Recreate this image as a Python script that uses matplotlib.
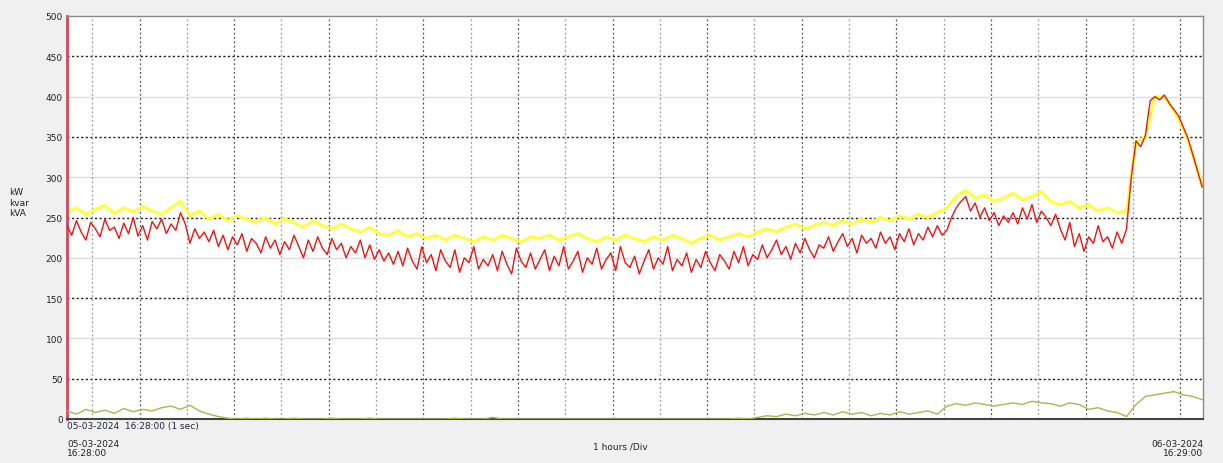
import numpy as np
import pandas as pd
import matplotlib
matplotlib.use("Agg")
import matplotlib.pyplot as plt
import matplotlib.dates as mdates

# ---- data ----
start = "2024-03-05 16:28:00"
end = "2024-03-06 16:29:00"

# kW (red), one value every 6 minutes
kw = [
    240, 228, 246, 232, 222, 244, 236, 226, 248, 234,
    238, 224, 243, 230, 250, 227, 240, 222, 245, 236,
    248, 230, 242, 234, 256, 242, 218, 236, 224, 232,
    220, 234, 214, 228, 210, 226, 216, 230, 208, 224,
    218, 206, 226, 212, 222, 204, 220, 210, 228, 214,
    200, 222, 208, 226, 212, 204, 224, 210, 218, 200,
    214, 206, 222, 200, 216, 198, 210, 196, 206, 192,
    208, 190, 212, 196, 186, 214, 194, 204, 184, 210,
    196, 188, 210, 182, 200, 194, 214, 186, 198, 190,
    204, 184, 208, 192, 180, 212, 196, 188, 206, 186,
    198, 210, 184, 202, 190, 214, 186, 196, 208, 182,
    200, 192, 212, 186, 198, 206, 184, 214, 194, 188,
    202, 180, 196, 210, 186, 200, 192, 214, 184, 198,
    190, 206, 182, 198, 188, 208, 194, 184, 204, 196,
    186, 208, 194, 214, 190, 204, 198, 216, 200, 210,
    222, 204, 214, 198, 218, 206, 224, 210, 200, 216,
    212, 226, 208, 220, 230, 214, 224, 206, 228, 218,
    224, 212, 232, 218, 226, 210, 230, 220, 236, 216,
    230, 222, 238, 226, 240, 228, 234, 250, 262, 270,
    276, 258, 268, 250, 262, 246, 256, 240, 252, 244,
    256, 242, 262, 248, 266, 244, 258, 250, 240, 254,
    236, 222, 244, 214, 230, 208, 226, 218, 240, 220,
    226, 212, 232, 218, 236, 300, 345, 338, 352, 395,
    400, 396, 402, 392, 384, 376, 362, 348, 328, 308,
    288,
]

# kVA (yellow), one value every 12 minutes
kva = [
    256, 262, 254, 260, 265, 255, 262, 257, 264, 258,
    254, 262, 270, 252, 258, 248, 254, 246, 252, 248,
    244, 250, 242, 248, 244, 238, 246, 240, 236, 242,
    236, 232, 238, 230, 228, 234, 226, 230, 224, 228,
    222, 228, 224, 220, 226, 222, 228, 224, 220, 226,
    224, 228, 222, 226, 230, 224, 220, 226, 222, 228,
    224, 220, 226, 222, 228, 224, 218, 224, 228, 222,
    226, 230, 226, 232, 236, 232, 238, 242, 236, 240,
    244, 240, 246, 242, 248, 244, 250, 246, 252, 248,
    254, 250, 256, 262, 276, 284, 274, 278, 270, 274,
    280, 272, 276, 282, 270, 266, 270, 262, 266, 258,
    262, 256, 258, 344, 350, 400, 400, 383, 361, 328,
    289,
]

# kvar (green), one value every 12 minutes
kvar = [
    10, 6, 12, 8, 11, 7, 13, 9, 12, 10,
    14, 16, 12, 17, 10, 6, 3, 1, 0, 1,
    0, 1, 0, 0, 1, 0, 0, 0, 1, 0,
    0, 0, 1, 0, 0, 0, 0, 0, 0, 0,
    0, 1, 0, 0, 0, 2, 0, 0, 0, 0,
    0, 0, 0, 0, 0, 0, 0, 0, 0, 0,
    0, 0, 0, 0, 0, 0, 0, 0, 0, 0,
    0, 1, 0, 2, 4, 3, 6, 4, 7, 5,
    8, 5, 9, 6, 8, 4, 7, 5, 9, 6,
    8, 10, 6, 16, 19, 17, 20, 18, 16, 18,
    20, 18, 22, 20, 19, 16, 20, 18, 12, 14,
    10, 8, 3, 18, 28, 30, 32, 34, 30, 28,
    24,
]

y_ticks = [0, 50, 100, 150, 200, 250, 300, 350, 400, 450, 500]
unit_label = "kW\nkvar\nkVA"
start_label = "05-03-2024  16:28:00 (1 sec)"
left_label = "05-03-2024\n16:28:00"
right_label = "06-03-2024\n16:29:00"
div_label = "1 hours /Div"

t_kw = pd.date_range(start, periods=len(kw), freq="6min")
t_kva = pd.date_range(start, periods=len(kva), freq="12min")
t_kvar = pd.date_range(start, periods=len(kvar), freq="12min")

# ---- figure ----
fig = plt.figure(figsize=(12.23, 4.64), dpi=100, facecolor="#f0f0f0")
ax = fig.add_axes([67 / 1223, 1 - 420 / 464, (1203 - 67) / 1223, (420 - 17) / 464])
ax.set_facecolor("white")

ax.set_xlim(pd.Timestamp(start), pd.Timestamp(end))
ax.set_ylim(0, 500)

# grid
for v in y_ticks[1:-1]:
    if v % 100 == 50:
        ax.axhline(v, color="#1a1a1a", lw=1.0, ls=(0, (1.5, 1.8)), zorder=1)
    else:
        ax.axhline(v, color="#dcdcdc", lw=1.0, zorder=1)
hours = pd.date_range("2024-03-05 17:00:00", "2024-03-06 16:00:00", freq="1h")
for i, h in enumerate(hours):
    col = "#555555" if i % 2 else "#9a9a9a"
    ax.axvline(h, color=col, lw=0.9, ls=(0, (1.5, 2.0)), zorder=1)

ax.plot(t_kva, kva, color="#ffff40", lw=2.2, zorder=2, solid_joinstyle="round")
ax.plot(t_kvar, kvar, color="#a8b850", lw=1.0, zorder=3)
ax.plot(t_kw, kw, color="#ee1515", lw=1.0, zorder=4)

ax.set_yticks(y_ticks)
ax.set_yticklabels([str(v) for v in y_ticks], fontsize=6.5, color="#222222")
ax.tick_params(axis="y", length=0, pad=3)
ax.set_xticks([])

for s in ["top", "right"]:
    ax.spines[s].set_color("#8a8a8a")
    ax.spines[s].set_linewidth(1.0)
ax.spines["bottom"].set_color("#444444")
ax.spines["bottom"].set_linewidth(1.5)
ax.spines["left"].set_color("#d04858")
ax.spines["left"].set_linewidth(2.0)

fs = 6.5
fig.text(9 / 1223, 1 - 203 / 464, unit_label, fontsize=fs, color="#222222",
         ha="left", va="center", linespacing=1.2)
fig.text(67 / 1223, 1 - 427 / 464, start_label, fontsize=fs, color="#222244",
         ha="left", va="center")
fig.text(67 / 1223, 1 - 449 / 464, left_label, fontsize=fs, color="#222222",
         ha="left", va="center", linespacing=1.1)
fig.text(620 / 1223, 1 - 447 / 464, div_label, fontsize=fs, color="#222222",
         ha="center", va="center")
fig.text(1203 / 1223, 1 - 449 / 464, right_label, fontsize=fs, color="#222222",
         ha="right", va="center", linespacing=1.1, multialignment="right")

fig.savefig("out.png", dpi=100, facecolor=fig.get_facecolor())
